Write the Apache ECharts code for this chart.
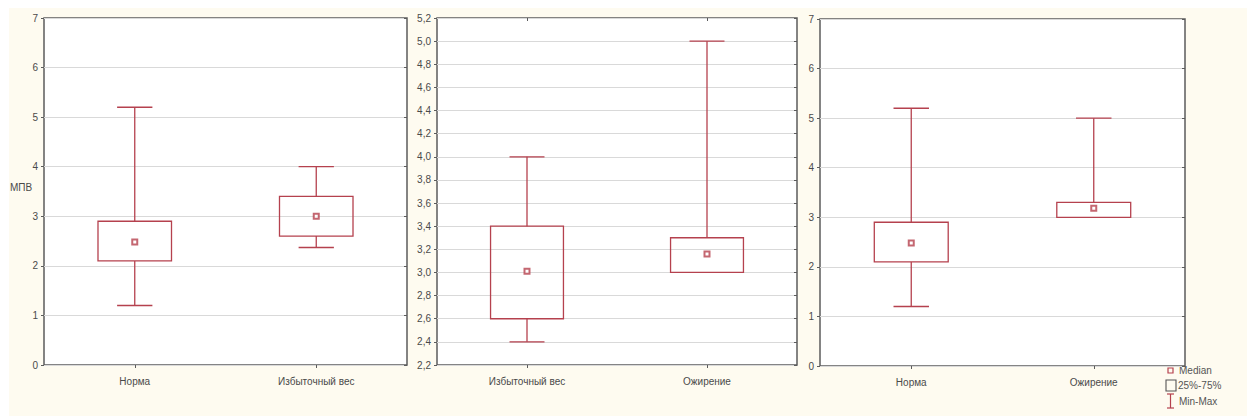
<!DOCTYPE html>
<html><head><meta charset="utf-8">
<script src="https://cdn.jsdelivr.net/npm/echarts@6/dist/echarts.min.js"></script>
<style>html,body{margin:0;padding:0;background:#fff}#c{width:1247px;height:416px}</style>
</head><body><div id="c"></div>
<script>
// [min, q1, median, q3, max]
const categories1 = ['Норма', 'Избыточный вес'];
const values1 = [[1.2, 2.1, 2.48, 2.9, 5.2], [2.37, 2.6, 3.0, 3.4, 4.0]];
const categories2 = ['Избыточный вес', 'Ожирение'];
const values2 = [[2.4, 2.6, 3.01, 3.4, 4.0], [3.0, 3.0, 3.16, 3.3, 5.0]];
const categories3 = ['Норма', 'Ожирение'];
const values3 = [[1.2, 2.1, 2.48, 2.9, 5.2], [3.0, 3.0, 3.18, 3.3, 5.0]];
const yRange1 = [0, 7, 1];
const yRange2 = [2.2, 5.2, 0.2];
const yRange3 = [0, 7, 1];
const yAxisName = 'МПВ';
const legendItems = ['Median', '25%-75%', 'Min-Max'];

const RED = '#b5414e';
const FRAME = '#5c5c5c';
const FONT = 'Liberation Sans';

const grids = [
  {left: 44, top: 18, width: 363, height: 347},
  {left: 437, top: 18, width: 360, height: 347},
  {left: 820, top: 19, width: 365, height: 347}
];
const cats = [categories1, categories2, categories3];
const vals = [values1, values2, values3];
const ranges = [yRange1, yRange2, yRange3];

function renderBox(params, api) {
  const x = api.value(0);
  const pMin = api.coord([x, api.value(1)]);
  const pQ1 = api.coord([x, api.value(2)]);
  const pQ3 = api.coord([x, api.value(4)]);
  const pMax = api.coord([x, api.value(5)]);
  const bw = api.size([1, 0])[0] * 0.405;
  const cw = bw * 0.48;
  const cx = pQ1[0];
  const st = {stroke: RED, lineWidth: 1.3, fill: null};
  const ch = [
    {type: 'rect', shape: {x: cx - bw / 2, y: pQ3[1], width: bw, height: pQ1[1] - pQ3[1]}, style: {stroke: RED, lineWidth: 1.3, fill: 'rgba(0,0,0,0)'}},
    {type: 'line', shape: {x1: cx, y1: pQ3[1], x2: cx, y2: pMax[1]}, style: st},
    {type: 'line', shape: {x1: cx - cw / 2, y1: pMax[1], x2: cx + cw / 2, y2: pMax[1]}, style: st}
  ];
  if (pMin[1] - pQ1[1] > 0.5) {
    ch.push({type: 'line', shape: {x1: cx, y1: pQ1[1], x2: cx, y2: pMin[1]}, style: st});
    ch.push({type: 'line', shape: {x1: cx - cw / 2, y1: pMin[1], x2: cx + cw / 2, y2: pMin[1]}, style: st});
  }
  return {type: 'group', children: ch};
}

const option = {
  backgroundColor: '#fff',
  animation: false,
  grid: grids.map(g => Object.assign({show: true, backgroundColor: '#fff', borderColor: FRAME, borderWidth: 1.5}, g)),
  xAxis: [],
  yAxis: [],
  series: [],
  graphic: []
};

for (let i = 0; i < 3; i++) {
  option.xAxis.push({
    type: 'category', gridIndex: i, data: cats[i],
    axisLine: {show: false},
    axisTick: {show: true, alignWithLabel: true, inside: false, length: 3, lineStyle: {color: FRAME}},
    axisLabel: {color: '#4a4a4a', fontFamily: FONT, fontSize: 10, margin: 11},
    splitLine: {show: false}
  });
  option.xAxis.push({
    type: 'category', gridIndex: i, data: cats[i], position: 'top',
    axisLine: {show: false},
    axisTick: {show: true, alignWithLabel: true, inside: true, length: 3, lineStyle: {color: FRAME}},
    axisLabel: {show: false}, splitLine: {show: false}
  });
  const r = ranges[i];
  const fmt = i === 1 ? (v => v.toFixed(1).replace('.', ',')) : (v => String(Math.round(v)));
  option.yAxis.push({
    type: 'value', gridIndex: i, min: r[0], max: r[1], interval: r[2],
    axisLine: {show: false},
    axisTick: {show: true, length: 3, lineStyle: {color: FRAME}},
    axisLabel: {color: '#4a4a4a', fontFamily: FONT, fontSize: 10, margin: 6, formatter: fmt},
    splitLine: {show: true, lineStyle: {color: '#d9d9d9', width: 1}}
  });
  option.yAxis.push({
    type: 'value', gridIndex: i, min: r[0], max: r[1], interval: r[2], position: 'right',
    axisLine: {show: false},
    axisTick: {show: true, inside: true, length: 3, lineStyle: {color: FRAME}},
    axisLabel: {show: false}, splitLine: {show: false}
  });
  option.series.push({
    type: 'custom', name: '25%-75%', xAxisIndex: 2 * i, yAxisIndex: 2 * i,
    renderItem: renderBox,
    encode: {x: 0, y: [1, 2, 3, 4, 5]},
    data: vals[i].map((v, k) => [k].concat(v)),
    z: 3
  });
  option.series.push({
    type: 'scatter', name: 'Median', xAxisIndex: 2 * i, yAxisIndex: 2 * i,
    symbol: 'emptyRect', symbolSize: 5,
    itemStyle: {color: RED, borderColor: RED, borderWidth: 1.3},
    data: vals[i].map((v, k) => [k, v[2]]),
    z: 4
  });
}

option.graphic = [
  {type: 'rect', silent: true, z: -100, shape: {x: 9, y: 8, width: 1238, height: 408}, style: {fill: '#fefbf0'}},
  {type: 'text', left: 10, top: 182, style: {text: yAxisName, fontFamily: FONT, fontSize: 10, fill: '#4a4a4a'}},
  {type: 'rect', shape: {x: 1168, y: 368, width: 5, height: 5}, style: {stroke: RED, fill: 'none', lineWidth: 1.2}},
  {type: 'text', left: 1179, top: 365, style: {text: legendItems[0], fontFamily: FONT, fontSize: 10, fill: '#555'}},
  {type: 'rect', shape: {x: 1166, y: 380, width: 10, height: 11}, style: {stroke: '#555', fill: 'none', lineWidth: 1.1}},
  {type: 'text', left: 1178, top: 380, style: {text: legendItems[1], fontFamily: FONT, fontSize: 10, fill: '#555'}},
  {type: 'line', shape: {x1: 1170.5, y1: 394, x2: 1170.5, y2: 408}, style: {stroke: RED, lineWidth: 1.2}},
  {type: 'line', shape: {x1: 1167, y1: 394, x2: 1174, y2: 394}, style: {stroke: RED, lineWidth: 1.2}},
  {type: 'line', shape: {x1: 1167, y1: 408, x2: 1174, y2: 408}, style: {stroke: RED, lineWidth: 1.2}},
  {type: 'text', left: 1179, top: 396, style: {text: legendItems[2], fontFamily: FONT, fontSize: 10, fill: '#555'}}
];

const chart = echarts.init(document.getElementById('c'), null, {renderer: 'svg'});
chart.setOption(option);
</script>
</body></html>
